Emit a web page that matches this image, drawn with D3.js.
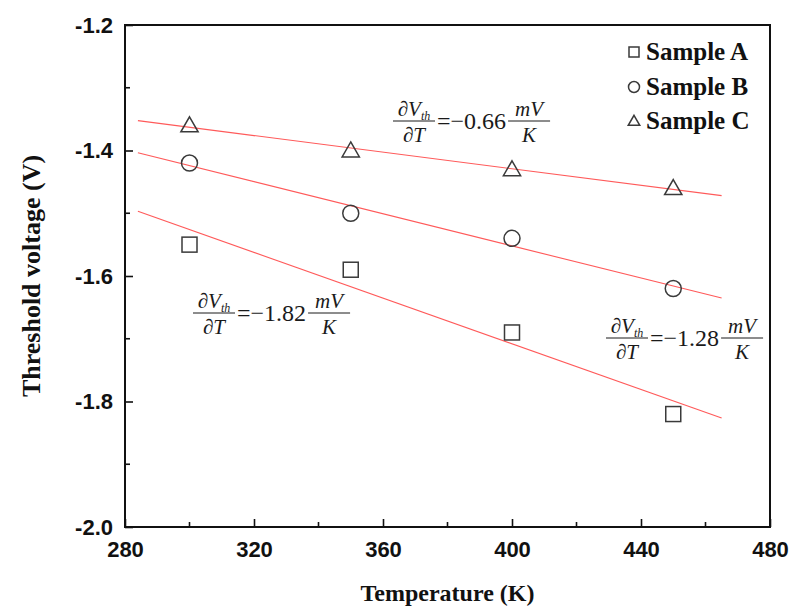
<!DOCTYPE html>
<html>
<head>
<meta charset="utf-8">
<script src="https://cdn.jsdelivr.net/npm/d3@7"></script>
<style>
  html, body { margin: 0; padding: 0; background: #fff; }
  svg { display: block; }
</style>
</head>
<body>
<svg id="chart" width="790" height="608"></svg>
<script>
// Threshold voltage measured at four temperatures for three samples
const temperatures = [300, 350, 400, 450];
const sampleA = [-1.55, -1.59, -1.69, -1.82];
const sampleB = [-1.42, -1.50, -1.54, -1.62];
const sampleC = [-1.36, -1.40, -1.43, -1.46];
const sampleNames = ["Sample A", "Sample B", "Sample C"];
const xTicks = [280, 320, 360, 400, 440, 480];
const yTicks = [-2.0, -1.8, -1.6, -1.4, -1.2];
// temperature span covered by the fitted lines
const fitRange = [284, 465];

const W = 790, H = 608;
const margin = { left: 125, right: 20, top: 25, bottom: 81 };
const svg = d3.select("#chart");

const x = d3.scaleLinear().domain([280, 480]).range([margin.left, W - margin.right]);
const y = d3.scaleLinear().domain([-2.0, -1.2]).range([H - margin.bottom, margin.top]);

// least-squares straight line
function fit(xs, ys) {
  const mx = d3.mean(xs), my = d3.mean(ys);
  let sxy = 0, sxx = 0;
  xs.forEach((v, i) => { sxy += (v - mx) * (ys[i] - my); sxx += (v - mx) * (v - mx); });
  const slope = sxy / sxx;
  return { slope, intercept: my - slope * mx };
}

const series = [
  { name: sampleNames[0], values: sampleA, shape: "square" },
  { name: sampleNames[1], values: sampleB, shape: "circle" },
  { name: sampleNames[2], values: sampleC, shape: "triangle" }
];
series.forEach(s => { s.fit = fit(temperatures, s.values); });

// fitted lines
const line = d3.line().x(d => x(d[0])).y(d => y(d[1]));
svg.append("g").selectAll("path").data(series).join("path")
  .attr("d", s => line(fitRange.map(t => [t, s.fit.intercept + s.fit.slope * t])))
  .attr("fill", "none")
  .attr("stroke", "#ff5a5a")
  .attr("stroke-width", 1.1);

// marker drawing
function drawMarker(g, shape, cx, cy, size) {
  const stroke = "#3a3a3a";
  if (shape === "square") {
    g.append("rect").attr("x", cx - size / 2).attr("y", cy - size / 2)
      .attr("width", size).attr("height", size)
      .attr("fill", "none").attr("stroke", stroke).attr("stroke-width", 1.5);
  } else if (shape === "circle") {
    g.append("circle").attr("cx", cx).attr("cy", cy).attr("r", size / 2 + 0.5)
      .attr("fill", "none").attr("stroke", stroke).attr("stroke-width", 1.5);
  } else {
    const h = size * 0.95, w = size * 1.15;
    g.append("path")
      .attr("d", `M${cx},${cy - h * 0.6}L${cx + w / 2},${cy + h * 0.45}L${cx - w / 2},${cy + h * 0.45}Z`)
      .attr("fill", "none").attr("stroke", stroke).attr("stroke-width", 1.5)
      .attr("stroke-linejoin", "miter");
  }
}

const markers = svg.append("g");
series.forEach(s => {
  s.values.forEach((v, i) => drawMarker(markers, s.shape, x(temperatures[i]), y(v), 15));
});

// frame
svg.append("rect")
  .attr("x", margin.left).attr("y", margin.top)
  .attr("width", W - margin.left - margin.right)
  .attr("height", H - margin.top - margin.bottom)
  .attr("fill", "none").attr("stroke", "#111").attr("stroke-width", 2);

// bottom axis with inward ticks
const xAxis = d3.axisBottom(x).tickValues(xTicks).tickSize(-8).tickPadding(14)
  .tickFormat(d3.format("d"));
const gx = svg.append("g").attr("transform", `translate(0,${H - margin.bottom})`).call(xAxis);
gx.select(".domain").remove();
gx.selectAll(".tick line").attr("stroke", "#111").attr("stroke-width", 1.6);
gx.selectAll(".tick text")
  .attr("font-family", "Liberation Sans, Arial, sans-serif")
  .attr("font-weight", "bold").attr("font-size", 22).attr("fill", "#111");
const xMinor = d3.range(300, 480, 40);
gx.selectAll(".minor").data(xMinor).join("line")
  .attr("x1", d => x(d)).attr("x2", d => x(d)).attr("y1", 0).attr("y2", -5)
  .attr("stroke", "#111").attr("stroke-width", 1.6);

// left axis with inward ticks
const yAxis = d3.axisLeft(y).tickValues(yTicks).tickSize(-8).tickPadding(12)
  .tickFormat(d => d.toFixed(1));
const gy = svg.append("g").attr("transform", `translate(${margin.left},0)`).call(yAxis);
gy.select(".domain").remove();
gy.selectAll(".tick line").attr("stroke", "#111").attr("stroke-width", 1.6);
gy.selectAll(".tick text")
  .attr("font-family", "Liberation Sans, Arial, sans-serif")
  .attr("font-weight", "bold").attr("font-size", 22).attr("fill", "#111");
const yMinor = [-1.9, -1.7, -1.5, -1.3];
gy.selectAll(".minor").data(yMinor).join("line")
  .attr("x1", 0).attr("x2", 5).attr("y1", d => y(d)).attr("y2", d => y(d))
  .attr("stroke", "#111").attr("stroke-width", 1.6);

// axis titles
svg.append("text")
  .attr("x", (margin.left + W - margin.right) / 2).attr("y", 601)
  .attr("text-anchor", "middle")
  .attr("font-family", "Liberation Serif, Times New Roman, serif")
  .attr("font-weight", "bold").attr("font-size", 24).attr("fill", "#111")
  .text("Temperature (K)");
svg.append("text")
  .attr("transform", `translate(40,${(margin.top + H - margin.bottom) / 2}) rotate(-90)`)
  .attr("text-anchor", "middle")
  .attr("font-family", "Liberation Serif, Times New Roman, serif")
  .attr("font-weight", "bold").attr("font-size", 26).attr("fill", "#111")
  .text("Threshold voltage (V)");

// legend
const legend = svg.append("g");
const legendY = [52, 87, 121];
series.forEach((s, i) => {
  drawMarker(legend, s.shape, 634, legendY[i], 10);
  legend.append("text")
    .attr("x", 646).attr("y", legendY[i] + 8)
    .attr("font-family", "Liberation Serif, Times New Roman, serif")
    .attr("font-weight", "bold").attr("font-size", 25).attr("fill", "#111")
    .text(s.name);
});

// slope annotations: dVth/dT = value mV/K
const serif = "Liberation Serif, Times New Roman, serif";
function drawEquation(x0, barY, slope) {
  const g = svg.append("g").attr("fill", "#1a1a1a").attr("font-family", serif);
  const fs = 21, big = 24;
  // left fraction
  const lw = 42;
  const num = g.append("text").attr("x", x0 + lw / 2).attr("y", barY - 5)
    .attr("text-anchor", "middle").attr("font-size", fs);
  num.append("tspan").text("\u2202");
  num.append("tspan").attr("font-style", "italic").text("V");
  num.append("tspan").attr("font-style", "italic").attr("font-size", 12).attr("dy", 4).text("th");
  g.append("line").attr("x1", x0).attr("x2", x0 + lw).attr("y1", barY).attr("y2", barY)
    .attr("stroke", "#1a1a1a").attr("stroke-width", 1);
  const den = g.append("text").attr("x", x0 + lw / 2).attr("y", barY + 21)
    .attr("text-anchor", "middle").attr("font-size", fs);
  den.append("tspan").text("\u2202");
  den.append("tspan").attr("font-style", "italic").text("T");
  // equals sign and value
  const val = g.append("text").attr("x", x0 + lw + 2).attr("y", barY + 8)
    .attr("font-size", big)
    .text("=\u2212" + Math.abs(slope).toFixed(2));
  const vEnd = x0 + lw + 2 + val.node().getComputedTextLength();
  // right fraction
  const rx = vEnd + 2, rw = 42;
  g.append("text").attr("x", rx + rw / 2).attr("y", barY - 5)
    .attr("text-anchor", "middle").attr("font-size", fs).attr("font-style", "italic")
    .text("mV");
  g.append("line").attr("x1", rx).attr("x2", rx + rw).attr("y1", barY).attr("y2", barY)
    .attr("stroke", "#1a1a1a").attr("stroke-width", 1);
  g.append("text").attr("x", rx + rw / 2).attr("y", barY + 21)
    .attr("text-anchor", "middle").attr("font-size", fs).attr("font-style", "italic")
    .text("K");
}
drawEquation(393, 121, series[2].fit.slope * 1000);
drawEquation(193, 313, series[0].fit.slope * 1000);
drawEquation(606, 338, series[1].fit.slope * 1000);
</script>
</body>
</html>
